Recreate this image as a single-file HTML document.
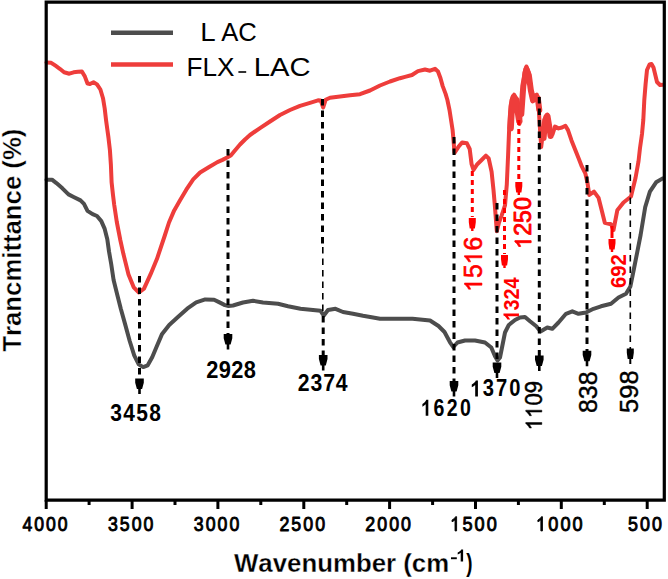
<!DOCTYPE html>
<html><head><meta charset="utf-8"><style>
html,body{margin:0;padding:0;background:#fff;}
svg{display:block;font-family:"Liberation Sans", sans-serif;}
</style></head><body>
<svg width="668" height="579" viewBox="0 0 668 579">
<rect width="668" height="579" fill="#fff"/>
<polyline points="46.5,179.7 52.0,179.7 56.4,183.1 62.4,188.3 68.5,194.4 73.6,197.0 80.5,200.4 84.0,203.9 87.5,210.8 92.6,214.2 97.0,216.0 101.3,221.1 104.7,228.9 107.3,239.3 109.0,251.4 111.2,264.0 113.6,280.0 117.2,294.4 120.8,308.7 125.3,324.9 129.7,341.0 134.2,355.4 138.7,364.4 143.2,367.1 147.7,365.3 152.2,357.2 156.7,346.4 162.1,333.9 169.2,324.9 178.2,316.8 187.2,308.7 196.2,302.4 205.2,299.4 214.1,299.7 219.5,302.4 224.9,305.1 228.5,306.0 233.0,305.5 243.0,302.5 253.0,300.8 263.0,302.5 278.0,303.8 288.0,306.3 300.5,308.8 313.0,310.0 320.5,310.8 323.8,315.5 328.0,310.0 335.5,308.8 343.0,312.0 353.0,313.8 363.0,315.8 373.0,317.5 380.0,318.8 412.5,318.8 430.0,320.5 438.5,326.0 444.5,332.0 450.0,342.3 453.3,347.0 457.5,342.5 465.0,340.5 475.0,340.5 485.0,342.5 491.3,347.5 495.0,356.3 497.5,360.5 500.0,357.5 502.5,345.0 505.0,332.5 508.8,325.0 515.0,320.0 520.0,317.5 525.0,317.0 530.0,321.3 536.3,326.3 540.5,331.5 547.3,327.5 552.3,328.8 558.5,322.5 566.0,313.8 572.3,311.3 578.5,313.8 586.0,312.5 593.5,308.8 601.0,306.3 611.0,303.8 618.5,297.5 626.0,293.8 630.4,286.4 633.9,269.0 637.3,251.8 640.6,235.0 645.2,207.2 649.9,191.6 656.1,182.3 662.3,178.6 663.0,178.5" fill="none" stroke="#4d4d4d" stroke-width="4" stroke-linejoin="round" stroke-linecap="round"/>
<polyline points="46.5,62.5 51.2,62.8 55.5,65.7 59.8,68.8 64.1,72.3 69.3,73.7 73.6,72.3 78.0,71.8 81.9,71.4 84.9,76.6 87.5,83.5 90.0,84.0 93.5,82.3 97.0,84.4 100.4,89.5 103.0,98.2 104.7,108.5 106.1,120.6 107.3,129.3 108.5,137.9 109.9,150.0 110.9,165.0 111.6,182.3 113.0,195.0 114.2,204.7 116.8,222.0 120.3,240.0 123.3,253.6 128.5,274.4 133.7,287.3 138.9,292.5 144.0,288.6 150.5,274.4 157.0,258.8 164.8,235.5 169.0,222.5 174.2,210.4 180.2,200.1 186.3,189.7 193.2,179.4 200.1,172.5 208.7,167.3 217.4,162.1 222.5,159.9 227.6,157.3 231.0,155.2 234.5,151.0 240.0,144.5 245.0,139.5 250.0,135.0 255.0,131.5 260.0,128.2 270.0,121.5 280.0,115.0 290.0,110.0 300.0,105.8 310.0,102.8 318.0,100.3 320.8,100.5 323.2,107.5 325.6,99.8 330.0,97.8 340.0,96.5 350.0,95.2 360.0,94.2 370.0,90.5 380.0,85.5 390.0,81.5 400.0,78.2 405.0,76.9 412.0,75.0 418.0,71.1 425.0,69.5 430.0,70.7 435.0,68.8 438.0,71.5 440.5,78.3 442.7,86.1 445.6,93.9 447.4,100.0 449.5,110.0 452.6,130.0 453.6,141.4 454.5,152.8 458.3,147.1 462.1,142.4 466.9,143.3 469.7,149.0 471.6,164.2 473.5,170.0 477.3,164.2 482.1,159.5 485.9,155.7 488.7,158.5 491.6,171.8 493.5,190.0 494.8,205.0 495.8,218.0 496.8,231.2 499.0,222.5 501.6,215.6 505.0,205.3 506.8,184.5 508.1,155.0 509.0,132.7 509.9,115.4 511.6,99.9 514.2,94.7 516.8,101.6 518.5,115.4 519.4,124.0 521.1,112.0 522.8,89.5 524.5,72.3 526.4,66.5 528.6,72.3 530.6,86.1 532.6,101.5 534.3,97.3 536.9,94.7 538.6,105.9 539.5,121.5 541.2,147.0 543.0,131.8 545.5,116.3 547.3,114.5 549.0,126.6 550.7,136.0 552.5,134.3 555.0,126.6 558.5,128.4 562.0,127.5 565.4,125.8 568.0,130.1 571.5,140.4 574.9,149.1 578.4,157.7 581.8,166.4 585.3,173.3 587.5,183.0 589.3,195.0 594.0,191.6 598.6,197.9 601.7,210.3 604.8,222.7 611.0,224.3 613.5,230.0 617.3,210.3 623.5,202.5 631.0,196.5 635.5,178.0 638.5,161.4 640.0,148.0 642.0,134.0 643.3,120.0 644.3,100.0 645.6,84.0 647.0,70.0 649.5,64.5 651.5,64.0 653.5,67.5 657.0,82.0 660.0,85.0 663.0,84.8" fill="none" stroke="#ee3d3b" stroke-width="4" stroke-linejoin="round" stroke-linecap="round"/>
<polyline points="510.6,128.0 511.8,106.0 513.8,97.0 516.3,100.0 517.8,111.0 519.3,121.0" fill="none" stroke="#ee3d3b" stroke-width="6.5" stroke-linejoin="round" stroke-linecap="round"/>
<polyline points="521.3,114.0 523.3,86.0 526.4,69.0 528.8,75.0 530.8,90.0 533.0,100.0 535.5,96.5 537.8,98.0 539.3,110.0" fill="none" stroke="#ee3d3b" stroke-width="6.0" stroke-linejoin="round" stroke-linecap="round"/>
<polyline points="543.6,138.0 545.2,120.0 547.5,116.0 549.3,127.0 550.6,136.0" fill="none" stroke="#ee3d3b" stroke-width="6.0" stroke-linejoin="round" stroke-linecap="round"/>
<line x1="139.5" y1="276.0" x2="139.5" y2="379.0" stroke="#000" stroke-width="3.0" stroke-dasharray="6.5 5"/>
<path d="M135.2 378.5 L143.8 378.5 L143.8 382.7 L142.1 389.0 L140.8 389.0 L140.8 394.0 L138.2 394.0 L138.2 389.0 L136.9 389.0 L135.2 382.7 Z" fill="#000"/>
<line x1="228.0" y1="149.0" x2="228.0" y2="334.5" stroke="#000" stroke-width="3.0" stroke-dasharray="6.5 5"/>
<path d="M223.7 334.0 L232.3 334.0 L232.3 338.2 L230.6 344.5 L229.3 344.5 L229.3 349.5 L226.7 349.5 L226.7 344.5 L225.4 344.5 L223.7 338.2 Z" fill="#000"/>
<line x1="322.5" y1="99.0" x2="322.5" y2="247.0" stroke="#000" stroke-width="3.0" stroke-dasharray="6.5 5"/>
<line x1="322.8" y1="247.0" x2="322.8" y2="316.0" stroke="#000" stroke-width="1.6" stroke-dasharray="6.5 5"/>
<line x1="323.2" y1="316.0" x2="323.2" y2="355.4" stroke="#000" stroke-width="3.0" stroke-dasharray="6.5 5"/>
<path d="M318.9 354.9 L327.5 354.9 L327.5 359.1 L325.8 365.4 L324.5 365.4 L324.5 370.4 L321.9 370.4 L321.9 365.4 L320.6 365.4 L318.9 359.1 Z" fill="#000"/>
<line x1="454.0" y1="137.0" x2="454.0" y2="381.5" stroke="#000" stroke-width="3.0" stroke-dasharray="6.5 5"/>
<path d="M449.7 381.0 L458.3 381.0 L458.3 385.2 L456.6 391.5 L455.3 391.5 L455.3 396.5 L452.7 396.5 L452.7 391.5 L451.4 391.5 L449.7 385.2 Z" fill="#000"/>
<line x1="497.0" y1="203.0" x2="497.0" y2="363.0" stroke="#000" stroke-width="3.0" stroke-dasharray="6.5 5"/>
<path d="M492.7 362.5 L501.3 362.5 L501.3 366.7 L499.6 373.0 L498.3 373.0 L498.3 378.0 L495.7 378.0 L495.7 373.0 L494.4 373.0 L492.7 366.7 Z" fill="#000"/>
<line x1="539.3" y1="97.0" x2="539.3" y2="356.0" stroke="#000" stroke-width="3.0" stroke-dasharray="6.5 5"/>
<path d="M535.0 355.5 L543.6 355.5 L543.6 359.7 L541.9 366.0 L540.6 366.0 L540.6 371.0 L538.0 371.0 L538.0 366.0 L536.7 366.0 L535.0 359.7 Z" fill="#000"/>
<line x1="587.0" y1="165.0" x2="587.0" y2="351.3" stroke="#000" stroke-width="3.0" stroke-dasharray="6.5 5"/>
<path d="M582.7 350.8 L591.3 350.8 L591.3 355.0 L589.6 361.3 L588.3 361.3 L588.3 366.3 L585.7 366.3 L585.7 361.3 L584.4 361.3 L582.7 355.0 Z" fill="#000"/>
<line x1="630.3" y1="163.0" x2="630.3" y2="349.0" stroke="#000" stroke-width="1.6" stroke-dasharray="6.5 5"/>
<path d="M626.8 348.5 L633.8 348.5 L633.8 352.7 L632.9 359.0 L631.3 359.0 L631.3 364.0 L629.3 364.0 L629.3 359.0 L627.7 359.0 L626.8 352.7 Z" fill="#000"/>
<line x1="472.3" y1="171.0" x2="472.3" y2="217.0" stroke="#ff0000" stroke-width="3" stroke-dasharray="5 4"/>
<path d="M468.8 218.0 L475.8 218.0 L475.8 222.2 L474.9 228.5 L473.5 228.5 L473.5 231.0 L471.1 231.0 L471.1 228.5 L469.7 228.5 L468.8 222.2 Z" fill="#ff0000"/>
<line x1="504.5" y1="190.0" x2="504.5" y2="254.0" stroke="#ff0000" stroke-width="3" stroke-dasharray="5 4"/>
<path d="M501.0 255.0 L508.0 255.0 L508.0 259.2 L507.1 265.5 L505.7 265.5 L505.7 268.0 L503.3 268.0 L503.3 265.5 L501.9 265.5 L501.0 259.2 Z" fill="#ff0000"/>
<line x1="518.8" y1="120.0" x2="518.8" y2="181.0" stroke="#ff0000" stroke-width="3" stroke-dasharray="5 4"/>
<path d="M515.3 182.0 L522.3 182.0 L522.3 186.2 L521.4 192.5 L520.0 192.5 L520.0 195.0 L517.6 195.0 L517.6 192.5 L516.2 192.5 L515.3 186.2 Z" fill="#ff0000"/>
<line x1="612.0" y1="226.0" x2="612.0" y2="238.0" stroke="#ff0000" stroke-width="3"/>
<path d="M608.5 239.0 L615.5 239.0 L615.5 243.2 L614.6 249.5 L613.2 249.5 L613.2 252.0 L610.8 252.0 L610.8 249.5 L609.4 249.5 L608.5 243.2 Z" fill="#ff0000"/>
<path d="M46.2 2.1 H664.3 V500.2 H46.2 Z" fill="none" stroke="#000" stroke-width="3.2" stroke-linejoin="miter"/>
<line x1="46.2" y1="500" x2="46.2" y2="509" stroke="#000" stroke-width="3"/>
<line x1="89.1" y1="500" x2="89.1" y2="505" stroke="#000" stroke-width="3"/>
<line x1="132.1" y1="500" x2="132.1" y2="509" stroke="#000" stroke-width="3"/>
<line x1="175.0" y1="500" x2="175.0" y2="505" stroke="#000" stroke-width="3"/>
<line x1="217.9" y1="500" x2="217.9" y2="509" stroke="#000" stroke-width="3"/>
<line x1="260.8" y1="500" x2="260.8" y2="505" stroke="#000" stroke-width="3"/>
<line x1="303.8" y1="500" x2="303.8" y2="509" stroke="#000" stroke-width="3"/>
<line x1="346.7" y1="500" x2="346.7" y2="505" stroke="#000" stroke-width="3"/>
<line x1="389.6" y1="500" x2="389.6" y2="509" stroke="#000" stroke-width="3"/>
<line x1="432.6" y1="500" x2="432.6" y2="505" stroke="#000" stroke-width="3"/>
<line x1="475.5" y1="500" x2="475.5" y2="509" stroke="#000" stroke-width="3"/>
<line x1="518.4" y1="500" x2="518.4" y2="505" stroke="#000" stroke-width="3"/>
<line x1="561.3" y1="500" x2="561.3" y2="509" stroke="#000" stroke-width="3"/>
<line x1="604.3" y1="500" x2="604.3" y2="505" stroke="#000" stroke-width="3"/>
<line x1="647.2" y1="500" x2="647.2" y2="509" stroke="#000" stroke-width="3"/>
<g transform="translate(21.37 530.92) scale(1.0242 1)" fill="#000" stroke="#000" stroke-width="0.95" stroke-linejoin="round"><text transform="translate(5.75 0) scale(0.8300 1)" text-anchor="middle" font-size="20.69" font-weight="normal">4</text><text transform="translate(17.26 0) scale(0.8300 1)" text-anchor="middle" font-size="20.69" font-weight="normal">0</text><text transform="translate(28.77 0) scale(0.8300 1)" text-anchor="middle" font-size="20.69" font-weight="normal">0</text><text transform="translate(40.28 0) scale(0.8300 1)" text-anchor="middle" font-size="20.69" font-weight="normal">0</text></g>
<g transform="translate(106.95 530.92) scale(1.0304 1)" fill="#000" stroke="#000" stroke-width="0.95" stroke-linejoin="round"><text transform="translate(5.75 0) scale(0.8300 1)" text-anchor="middle" font-size="20.69" font-weight="normal">3</text><text transform="translate(17.26 0) scale(0.8300 1)" text-anchor="middle" font-size="20.69" font-weight="normal">5</text><text transform="translate(28.77 0) scale(0.8300 1)" text-anchor="middle" font-size="20.69" font-weight="normal">0</text><text transform="translate(40.28 0) scale(0.8300 1)" text-anchor="middle" font-size="20.69" font-weight="normal">0</text></g>
<g transform="translate(192.81 530.92) scale(1.0304 1)" fill="#000" stroke="#000" stroke-width="0.95" stroke-linejoin="round"><text transform="translate(5.75 0) scale(0.8300 1)" text-anchor="middle" font-size="20.69" font-weight="normal">3</text><text transform="translate(17.26 0) scale(0.8300 1)" text-anchor="middle" font-size="20.69" font-weight="normal">0</text><text transform="translate(28.77 0) scale(0.8300 1)" text-anchor="middle" font-size="20.69" font-weight="normal">0</text><text transform="translate(40.28 0) scale(0.8300 1)" text-anchor="middle" font-size="20.69" font-weight="normal">0</text></g>
<g transform="translate(278.44 530.92) scale(1.0355 1)" fill="#000" stroke="#000" stroke-width="0.95" stroke-linejoin="round"><text transform="translate(5.75 0) scale(0.8300 1)" text-anchor="middle" font-size="20.69" font-weight="normal">2</text><text transform="translate(17.26 0) scale(0.8300 1)" text-anchor="middle" font-size="20.69" font-weight="normal">5</text><text transform="translate(28.77 0) scale(0.8300 1)" text-anchor="middle" font-size="20.69" font-weight="normal">0</text><text transform="translate(40.28 0) scale(0.8300 1)" text-anchor="middle" font-size="20.69" font-weight="normal">0</text></g>
<g transform="translate(364.30 530.92) scale(1.0355 1)" fill="#000" stroke="#000" stroke-width="0.95" stroke-linejoin="round"><text transform="translate(5.75 0) scale(0.8300 1)" text-anchor="middle" font-size="20.69" font-weight="normal">2</text><text transform="translate(17.26 0) scale(0.8300 1)" text-anchor="middle" font-size="20.69" font-weight="normal">0</text><text transform="translate(28.77 0) scale(0.8300 1)" text-anchor="middle" font-size="20.69" font-weight="normal">0</text><text transform="translate(40.28 0) scale(0.8300 1)" text-anchor="middle" font-size="20.69" font-weight="normal">0</text></g>
<g transform="translate(449.26 530.92) scale(1.0557 1)" fill="#000" stroke="#000" stroke-width="0.95" stroke-linejoin="round"><path transform="translate(5.75 0) scale(0.0084 -0.0101) translate(-569.5 0)" d="M713 0H535V1100C490 1058 430 1018 360 980C300 948 250 928 200 910V1080C300 1125 390 1185 460 1250C530 1315 580 1365 600 1409H713Z" stroke-width="94.03"/><text transform="translate(17.26 0) scale(0.8300 1)" text-anchor="middle" font-size="20.69" font-weight="normal">5</text><text transform="translate(28.77 0) scale(0.8300 1)" text-anchor="middle" font-size="20.69" font-weight="normal">0</text><text transform="translate(40.28 0) scale(0.8300 1)" text-anchor="middle" font-size="20.69" font-weight="normal">0</text></g>
<g transform="translate(535.11 530.92) scale(1.0557 1)" fill="#000" stroke="#000" stroke-width="0.95" stroke-linejoin="round"><path transform="translate(5.75 0) scale(0.0084 -0.0101) translate(-569.5 0)" d="M713 0H535V1100C490 1058 430 1018 360 980C300 948 250 928 200 910V1080C300 1125 390 1185 460 1250C530 1315 580 1365 600 1409H713Z" stroke-width="94.03"/><text transform="translate(17.26 0) scale(0.8300 1)" text-anchor="middle" font-size="20.69" font-weight="normal">0</text><text transform="translate(28.77 0) scale(0.8300 1)" text-anchor="middle" font-size="20.69" font-weight="normal">0</text><text transform="translate(40.28 0) scale(0.8300 1)" text-anchor="middle" font-size="20.69" font-weight="normal">0</text></g>
<g transform="translate(627.04 530.92) scale(1.0398 1)" fill="#000" stroke="#000" stroke-width="0.95" stroke-linejoin="round"><text transform="translate(5.75 0) scale(0.8300 1)" text-anchor="middle" font-size="20.69" font-weight="normal">5</text><text transform="translate(17.26 0) scale(0.8300 1)" text-anchor="middle" font-size="20.69" font-weight="normal">0</text><text transform="translate(28.77 0) scale(0.8300 1)" text-anchor="middle" font-size="20.69" font-weight="normal">0</text></g>
<line x1="111" y1="32.8" x2="173" y2="32.8" stroke="#4d4d4d" stroke-width="4.5"/>
<line x1="111" y1="64.4" x2="173" y2="64.4" stroke="#ee3d3b" stroke-width="4.5"/>
<g transform="translate(200.33 41.00) scale(1.0460 1)" fill="#000"><text x="7.36" text-anchor="middle" font-size="26.45" font-weight="normal">L</text></g>
<g transform="translate(221.15 40.75) scale(0.9977 1)" fill="#000"><text x="8.57" text-anchor="middle" font-size="25.71" font-weight="normal">A</text><text x="26.43" text-anchor="middle" font-size="25.71" font-weight="normal">C</text></g>
<g transform="translate(186.55 76.00) scale(0.9893 1)" fill="#000"><text x="8.08" text-anchor="middle" font-size="26.45" font-weight="normal">F</text><text x="23.52" text-anchor="middle" font-size="26.45" font-weight="normal">L</text><text x="39.69" text-anchor="middle" font-size="26.45" font-weight="normal">X</text></g>
<rect x="238.4" y="71.2" width="7.8" height="1.6" fill="#000"/>
<g transform="translate(253.80 75.75) scale(1.1360 1)" fill="#000"><text x="7.15" text-anchor="middle" font-size="25.71" font-weight="normal">L</text><text x="22.87" text-anchor="middle" font-size="25.71" font-weight="normal">A</text><text x="40.72" text-anchor="middle" font-size="25.71" font-weight="normal">C</text></g>
<g transform="translate(109.67 420.63) scale(0.9684 1)" fill="#000"><text transform="translate(6.70 0) scale(0.9000 1)" text-anchor="middle" font-size="24.10" font-weight="bold">3</text><text transform="translate(20.11 0) scale(0.9000 1)" text-anchor="middle" font-size="24.10" font-weight="bold">4</text><text transform="translate(33.51 0) scale(0.9000 1)" text-anchor="middle" font-size="24.10" font-weight="bold">5</text><text transform="translate(46.92 0) scale(0.9000 1)" text-anchor="middle" font-size="24.10" font-weight="bold">8</text></g>
<g transform="translate(206.05 378.26) scale(0.9325 1)" fill="#000"><text transform="translate(6.72 0) scale(0.9700 1)" text-anchor="middle" font-size="24.15" font-weight="bold">2</text><text transform="translate(20.15 0) scale(0.9700 1)" text-anchor="middle" font-size="24.15" font-weight="bold">9</text><text transform="translate(33.58 0) scale(0.9700 1)" text-anchor="middle" font-size="24.15" font-weight="bold">2</text><text transform="translate(47.01 0) scale(0.9700 1)" text-anchor="middle" font-size="24.15" font-weight="bold">8</text></g>
<g transform="translate(297.32 390.63) scale(0.9463 1)" fill="#000"><text transform="translate(6.70 0) scale(0.9300 1)" text-anchor="middle" font-size="24.10" font-weight="bold">2</text><text transform="translate(20.11 0) scale(0.9300 1)" text-anchor="middle" font-size="24.10" font-weight="bold">3</text><text transform="translate(33.51 0) scale(0.9300 1)" text-anchor="middle" font-size="24.10" font-weight="bold">7</text><text transform="translate(46.92 0) scale(0.9300 1)" text-anchor="middle" font-size="24.10" font-weight="bold">4</text></g>
<g transform="translate(419.10 415.87) scale(1.0241 1)" fill="#000"><path transform="translate(6.48 0) scale(0.0093 -0.0114) translate(-569.5 0)" d="M840 0H565V1010C470 920 355 855 220 810V1050C295 1075 375 1120 460 1190C545 1260 600 1330 630 1409H840Z"/><text transform="translate(19.44 0) scale(0.8200 1)" text-anchor="middle" font-size="23.30" font-weight="bold">6</text><text transform="translate(32.40 0) scale(0.8200 1)" text-anchor="middle" font-size="23.30" font-weight="bold">2</text><text transform="translate(45.36 0) scale(0.8200 1)" text-anchor="middle" font-size="23.30" font-weight="bold">0</text></g>
<g transform="translate(468.64 396.44) scale(1.0200 1)" fill="#000"><path transform="translate(6.47 0) scale(0.0097 -0.0114) translate(-569.5 0)" d="M840 0H565V1010C470 920 355 855 220 810V1050C295 1075 375 1120 460 1190C545 1260 600 1330 630 1409H840Z"/><text transform="translate(19.40 0) scale(0.8500 1)" text-anchor="middle" font-size="23.26" font-weight="bold">3</text><text transform="translate(32.34 0) scale(0.8500 1)" text-anchor="middle" font-size="23.26" font-weight="bold">7</text><text transform="translate(45.27 0) scale(0.8500 1)" text-anchor="middle" font-size="23.26" font-weight="bold">0</text></g>
<g transform="translate(541.82 430.21) rotate(-90) scale(0.9455 1)" fill="#000" stroke="#000" stroke-width="0.50" stroke-linejoin="round"><path transform="translate(6.52 0) scale(0.0114 -0.0114) translate(-569.5 0)" d="M713 0H535V1100C490 1058 430 1018 360 980C300 948 250 928 200 910V1080C300 1125 390 1185 460 1250C530 1315 580 1365 600 1409H713Z" stroke-width="43.67"/><path transform="translate(19.56 0) scale(0.0114 -0.0114) translate(-569.5 0)" d="M713 0H535V1100C490 1058 430 1018 360 980C300 948 250 928 200 910V1080C300 1125 390 1185 460 1250C530 1315 580 1365 600 1409H713Z" stroke-width="43.67"/><text x="32.60" text-anchor="middle" font-size="23.45" font-weight="normal">0</text><text x="45.64" text-anchor="middle" font-size="23.45" font-weight="normal">9</text></g>
<g transform="translate(597.15 412.98) rotate(-90) scale(0.9799 1)" fill="#000" stroke="#000" stroke-width="0.40" stroke-linejoin="round"><text x="7.07" text-anchor="middle" font-size="25.42" font-weight="normal">8</text><text x="21.21" text-anchor="middle" font-size="25.42" font-weight="normal">3</text><text x="35.35" text-anchor="middle" font-size="25.42" font-weight="normal">8</text></g>
<g transform="translate(638.05 412.92) rotate(-90) scale(1.0051 1)" fill="#000" stroke="#000" stroke-width="0.40" stroke-linejoin="round"><text x="7.07" text-anchor="middle" font-size="25.42" font-weight="normal">5</text><text x="21.21" text-anchor="middle" font-size="25.42" font-weight="normal">9</text><text x="35.35" text-anchor="middle" font-size="25.42" font-weight="normal">8</text></g>
<g transform="translate(481.95 291.61) rotate(-90) scale(0.9687 1)" fill="#ff0000" stroke="#ff0000" stroke-width="0.60" stroke-linejoin="round"><path transform="translate(7.07 0) scale(0.0124 -0.0124) translate(-569.5 0)" d="M713 0H535V1100C490 1058 430 1018 360 980C300 948 250 928 200 910V1080C300 1125 390 1185 460 1250C530 1315 580 1365 600 1409H713Z" stroke-width="48.33"/><text x="21.21" text-anchor="middle" font-size="25.42" font-weight="normal">5</text><path transform="translate(35.35 0) scale(0.0124 -0.0124) translate(-569.5 0)" d="M713 0H535V1100C490 1058 430 1018 360 980C300 948 250 928 200 910V1080C300 1125 390 1185 460 1250C530 1315 580 1365 600 1409H713Z" stroke-width="48.33"/><text x="49.49" text-anchor="middle" font-size="25.42" font-weight="normal">6</text></g>
<g transform="translate(518.95 321.63) rotate(-90) scale(0.8798 1)" fill="#ff0000"><path transform="translate(6.27 0) scale(0.0110 -0.0110) translate(-569.5 0)" d="M840 0H565V1010C470 920 355 855 220 810V1050C295 1075 375 1120 460 1190C545 1260 600 1330 630 1409H840Z"/><text x="18.81" text-anchor="middle" font-size="22.55" font-weight="bold">3</text><text x="31.36" text-anchor="middle" font-size="22.55" font-weight="bold">2</text><text x="43.90" text-anchor="middle" font-size="22.55" font-weight="bold">4</text></g>
<g transform="translate(531.12 248.71) rotate(-90) scale(0.9808 1)" fill="#ff0000" stroke="#ff0000" stroke-width="0.90" stroke-linejoin="round"><path transform="translate(6.56 0) scale(0.0115 -0.0115) translate(-569.5 0)" d="M713 0H535V1100C490 1058 430 1018 360 980C300 948 250 928 200 910V1080C300 1125 390 1185 460 1250C530 1315 580 1365 600 1409H713Z" stroke-width="78.14"/><text x="19.68" text-anchor="middle" font-size="23.59" font-weight="normal">2</text><text x="32.80" text-anchor="middle" font-size="23.59" font-weight="normal">5</text><text x="45.91" text-anchor="middle" font-size="23.59" font-weight="normal">0</text></g>
<g transform="translate(625.98 288.05) rotate(-90) scale(0.9064 1)" fill="#ff0000"><text x="6.24" text-anchor="middle" font-size="22.46" font-weight="bold">6</text><text x="18.73" text-anchor="middle" font-size="22.46" font-weight="bold">9</text><text x="31.22" text-anchor="middle" font-size="22.46" font-weight="bold">2</text></g>
<g transform="translate(234.02 571.74) scale(0.9900 1)" fill="#000" stroke="#fff" stroke-width="0.30" stroke-linejoin="round"><text x="12.30" text-anchor="middle" font-size="26.07" font-weight="bold">W</text><text x="31.85" text-anchor="middle" font-size="26.07" font-weight="bold">a</text><text x="46.35" text-anchor="middle" font-size="26.07" font-weight="bold">v</text><text x="60.85" text-anchor="middle" font-size="26.07" font-weight="bold">e</text><text x="76.06" text-anchor="middle" font-size="26.07" font-weight="bold">n</text><text x="91.99" text-anchor="middle" font-size="26.07" font-weight="bold">u</text><text x="111.54" text-anchor="middle" font-size="26.07" font-weight="bold">m</text><text x="131.09" text-anchor="middle" font-size="26.07" font-weight="bold">b</text><text x="146.30" text-anchor="middle" font-size="26.07" font-weight="bold">e</text><text x="158.62" text-anchor="middle" font-size="26.07" font-weight="bold">r</text><text x="175.28" text-anchor="middle" font-size="26.07" font-weight="bold">(</text><text x="186.87" text-anchor="middle" font-size="26.07" font-weight="bold">c</text><text x="205.71" text-anchor="middle" font-size="26.07" font-weight="bold">m</text></g>
<rect x="451" y="557.3" width="5.8" height="1.9" fill="#000"/>
<g transform="translate(455.78 561.50) scale(1.0142 1)" fill="#000"><path transform="translate(4.89 0) scale(0.0086 -0.0086) translate(-569.5 0)" d="M840 0H565V1010C470 920 355 855 220 810V1050C295 1075 375 1120 460 1190C545 1260 600 1330 630 1409H840Z"/></g>
<g transform="translate(466.28 572.00) scale(0.7355 1)" fill="#000"><text x="4.25" text-anchor="middle" font-size="25.53" font-weight="bold">)</text></g>
<g transform="translate(20.74 351.66) rotate(-90) scale(1.0013 1)" fill="#000" stroke="#fff" stroke-width="0.35" stroke-linejoin="round"><text x="7.85" text-anchor="middle" font-size="25.69" font-weight="bold">T</text><text x="20.69" text-anchor="middle" font-size="25.69" font-weight="bold">r</text><text x="32.84" text-anchor="middle" font-size="25.69" font-weight="bold">a</text><text x="47.83" text-anchor="middle" font-size="25.69" font-weight="bold">n</text><text x="62.82" text-anchor="middle" font-size="25.69" font-weight="bold">c</text><text x="81.39" text-anchor="middle" font-size="25.69" font-weight="bold">m</text><text x="96.38" text-anchor="middle" font-size="25.69" font-weight="bold">i</text><text x="104.23" text-anchor="middle" font-size="25.69" font-weight="bold">t</text><text x="112.79" text-anchor="middle" font-size="25.69" font-weight="bold">t</text><text x="124.21" text-anchor="middle" font-size="25.69" font-weight="bold">a</text><text x="139.20" text-anchor="middle" font-size="25.69" font-weight="bold">n</text><text x="154.19" text-anchor="middle" font-size="25.69" font-weight="bold">c</text><text x="168.48" text-anchor="middle" font-size="25.69" font-weight="bold">e</text><text x="187.05" text-anchor="middle" font-size="25.69" font-weight="bold">(</text><text x="202.75" text-anchor="middle" font-size="25.69" font-weight="bold">%</text><text x="218.45" text-anchor="middle" font-size="25.69" font-weight="bold">)</text></g>
</svg>
</body></html>
